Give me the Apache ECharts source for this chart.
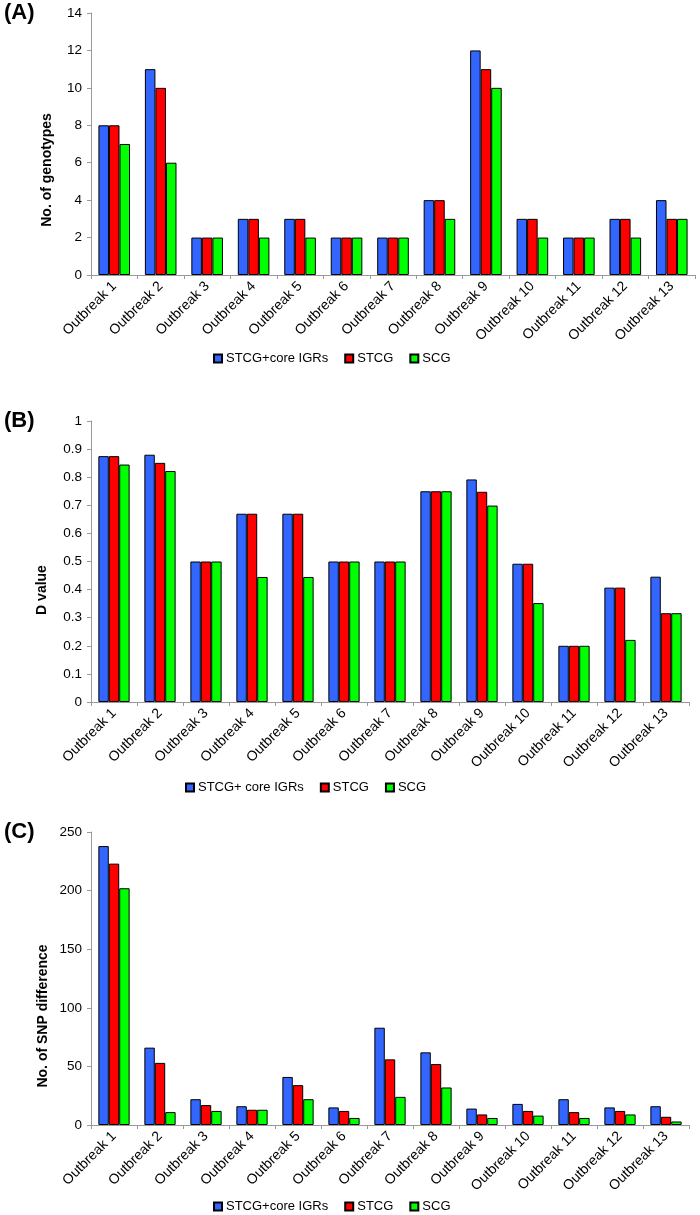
<!DOCTYPE html>
<html>
<head>
<meta charset="utf-8">
<script src="https://cdn.jsdelivr.net/npm/echarts@6/dist/echarts.min.js"></script>
<style>
html,body{margin:0;padding:0;background:#fff;}
#chart{width:700px;height:1215px;}
</style>
</head>
<body>
<div id="chart"></div>
<script>
const categories = ['Outbreak 1','Outbreak 2','Outbreak 3','Outbreak 4','Outbreak 5','Outbreak 6','Outbreak 7','Outbreak 8','Outbreak 9','Outbreak 10','Outbreak 11','Outbreak 12','Outbreak 13'];

const namesAC = ['STCG+core IGRs','STCG','SCG'];
const namesB = ['STCG+ core IGRs','STCG','SCG'];

// Panel A: No. of genotypes
const aSTCGcore = [8,11,2,3,3,2,2,4,12,3,2,3,4];
const aSTCG     = [8,10,2,3,3,2,2,4,11,3,2,3,3];
const aSCG      = [7,6,2,2,2,2,2,3,10,2,2,2,3];

// Panel B: D value
const bSTCGcore = [0.875,0.88,0.5,0.67,0.67,0.5,0.5,0.75,0.792,0.492,0.2,0.407,0.446];
const bSTCG     = [0.875,0.851,0.5,0.67,0.67,0.5,0.5,0.75,0.748,0.492,0.2,0.407,0.316];
const bSCG      = [0.845,0.822,0.5,0.445,0.445,0.5,0.5,0.75,0.699,0.352,0.2,0.221,0.316];

// Panel C: No. of SNP difference
const cSTCGcore = [238,66,22,16,41,15,83,62,14,18,22,15,16];
const cSTCG     = [223,53,17,13,34,12,56,52,9,12,11,12,7];
const cSCG      = [202,11,12,13,22,6,24,32,6,8,6,9,3];

const colors = ['#3366FF','#FF0000','#00FF00'];
const font = 'Liberation Sans, Arial, sans-serif';

const chart = echarts.init(document.getElementById('chart'));

function xAxis(gi){
  return {
    type:'category', gridIndex:gi, data:categories,
    axisLine:{lineStyle:{color:'#999',width:1}},
    axisTick:{show:true,alignWithLabel:false,length:4,lineStyle:{color:'#999'}},
    axisLabel:{rotate:45,interval:0,color:'#000',fontSize:14,fontFamily:font,margin:9}
  };
}
function yAxis(gi,max,interval,fmt){
  return {
    type:'value', gridIndex:gi, min:0, max:max, interval:interval,
    axisLine:{show:true,lineStyle:{color:'#999',width:1}},
    axisTick:{show:true,length:4,lineStyle:{color:'#999'}},
    splitLine:{show:false},
    axisLabel:{color:'#000',fontSize:13.5,fontFamily:font,margin:9,formatter:fmt}
  };
}
function bars(names,arrs,gi){
  return arrs.map((d,i)=>({
    type:'bar', name:names[i], xAxisIndex:gi, yAxisIndex:gi, data:d,
    barGap:'0%', barCategoryGap:'32%',
    itemStyle:{color:colors[i],borderColor:'#000',borderWidth:1},
    emphasis:{disabled:true}
  }));
}
function legend(names,left,top){
  return {
    data:names, left:left, top:top, padding:0, itemGap:16,
    itemWidth:8, itemHeight:8, icon:'rect',
    textStyle:{color:'#000',fontSize:13,fontFamily:font,padding:[0,0,0,-1]},
    selectedMode:false
  };
}
function ttl(text,x,y){
  return {type:'text',x:x,y:y,rotation:Math.PI/2,
    style:{text:text,fill:'#000',font:'bold 14px '+font,textAlign:'center',textVerticalAlign:'middle'}};
}
function panel(text,x,y){
  return {type:'text',left:x,top:y,
    style:{text:text,fill:'#000',font:'bold 22px '+font}};
}

chart.setOption({
  animation:false,
  grid:[
    {left:91,top:13,width:604,height:262},
    {left:91,top:421,width:598,height:281},
    {left:91,top:832,width:598,height:293}
  ],
  xAxis:[xAxis(0),xAxis(1),xAxis(2)],
  yAxis:[
    yAxis(0,14,2),
    yAxis(1,1,0.1,v=>Math.round(v*10)/10+''),
    yAxis(2,250,50)
  ],
  legend:[legend(namesAC,213,352),legend(namesB,185,781),legend(namesAC,213,1200)],
  series:[].concat(
    bars(namesAC,[aSTCGcore,aSTCG,aSCG],0),
    bars(namesB,[bSTCGcore,bSTCG,bSCG],1),
    bars(namesAC,[cSTCGcore,cSTCG,cSCG],2)
  ),
  graphic:[
    ttl('No. of genotypes',47,170),
    ttl('D value',42,590),
    ttl('No. of SNP difference',43,1016),
    panel('(A)',4,2),
    panel('(B)',4,410),
    panel('(C)',4,821)
  ]
});
</script>
</body>
</html>
